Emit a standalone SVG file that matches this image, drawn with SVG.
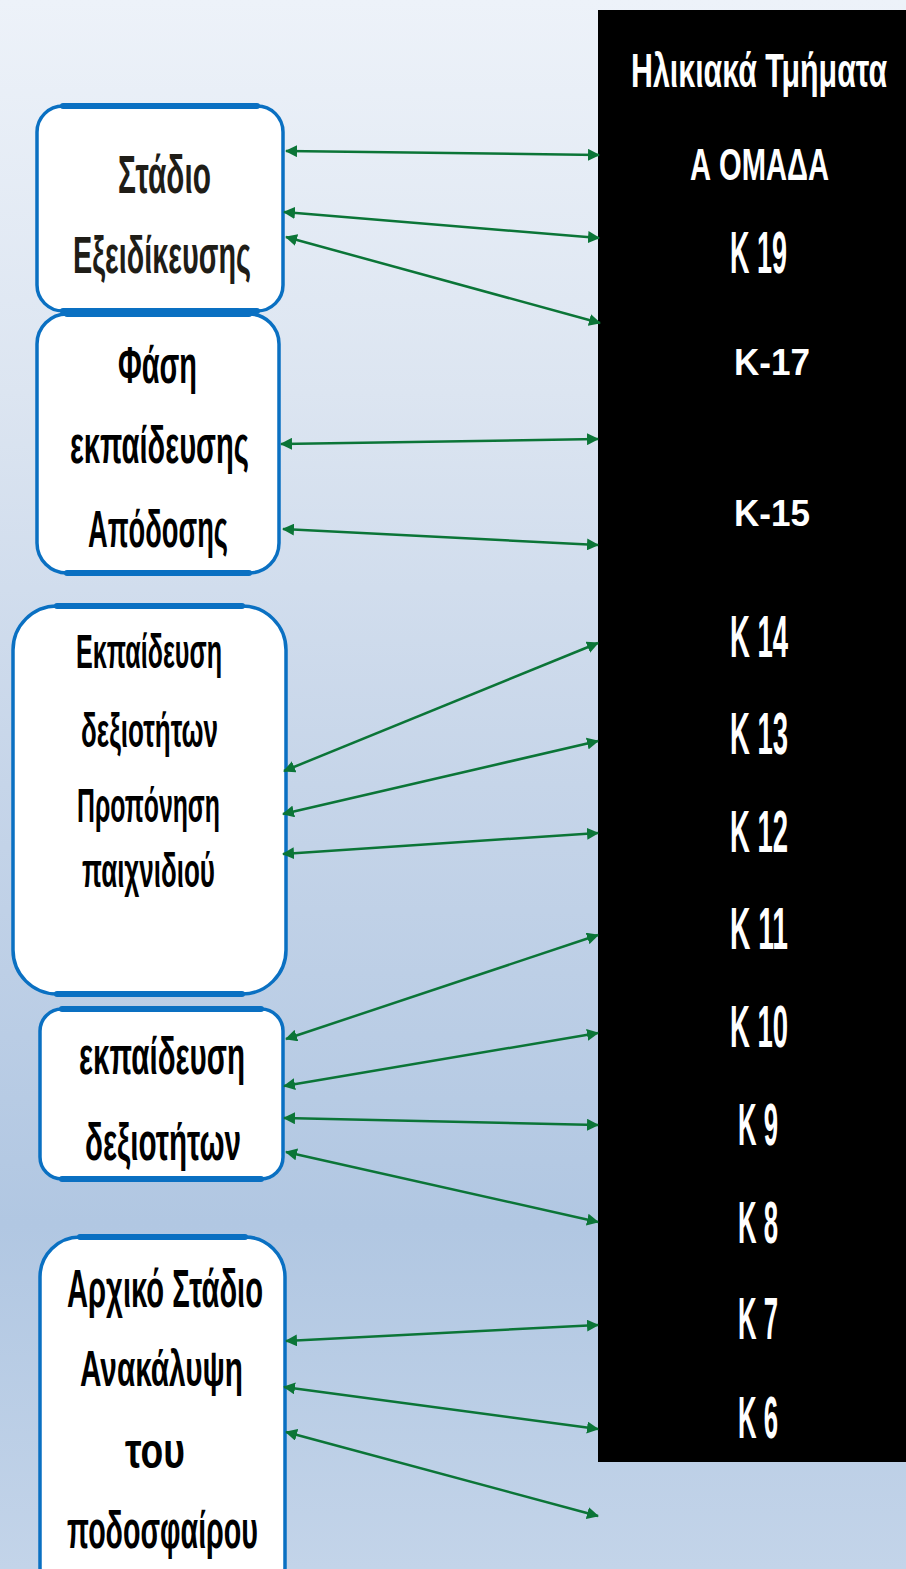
<svg xmlns="http://www.w3.org/2000/svg" width="906" height="1569" viewBox="0 0 906 1569">
<defs>
<linearGradient id="bg" x1="0" y1="0" x2="0" y2="1">
<stop offset="0" stop-color="#edf2f9"/>
<stop offset="0.25" stop-color="#dce5f1"/>
<stop offset="0.5" stop-color="#c6d5e9"/>
<stop offset="0.78" stop-color="#b1c7e2"/>
<stop offset="1" stop-color="#c3d4e9"/>
</linearGradient>
<marker id="ah" viewBox="0 0 12 12" refX="11" refY="6" markerWidth="12" markerHeight="12" markerUnits="userSpaceOnUse" orient="auto-start-reverse">
<path d="M0,0 L12,6 L0,12 z" fill="#0b7537"/>
</marker>
<style>
.box{fill:#ffffff;stroke:#0a70c2;stroke-width:3.5}
.edge{stroke:#0a70c2;stroke-width:6;stroke-linecap:round}
.bt{font-family:"Liberation Sans",Arial,sans-serif;font-weight:bold;fill:#000000}
.wt{font-family:"Liberation Sans",Arial,sans-serif;font-weight:bold;fill:#ffffff}
.con line{stroke:#0b7537;stroke-width:2.5;marker-start:url(#ah);marker-end:url(#ah)}
</style>
</defs>
<rect x="0" y="0" width="906" height="1569" fill="url(#bg)"/>

<g id="age-groups">
<rect x="598" y="10" width="308" height="1452" fill="#000000"/>
<text class="wt" x="0" y="0" font-size="49" transform="matrix(0.6 0 0 1 631 87)" textLength="427" lengthAdjust="spacingAndGlyphs">Ηλικιακά Τμήματα</text>
<text class="wt" x="690" y="180" font-size="45" textLength="139" lengthAdjust="spacingAndGlyphs">Α ΟΜΑΔΑ</text>
<text class="wt" x="730" y="273" font-size="60" textLength="57" lengthAdjust="spacingAndGlyphs">Κ 19</text>
<text class="wt" x="734" y="375" font-size="36" textLength="76" lengthAdjust="spacingAndGlyphs">Κ-17</text>
<text class="wt" x="734" y="526" font-size="36" textLength="76" lengthAdjust="spacingAndGlyphs">Κ-15</text>
<text class="wt" x="730" y="657" font-size="60" textLength="58" lengthAdjust="spacingAndGlyphs">Κ 14</text>
<text class="wt" x="730" y="754" font-size="60" textLength="58" lengthAdjust="spacingAndGlyphs">Κ 13</text>
<text class="wt" x="730" y="852" font-size="60" textLength="58" lengthAdjust="spacingAndGlyphs">Κ 12</text>
<text class="wt" x="730" y="949" font-size="60" textLength="58" lengthAdjust="spacingAndGlyphs">Κ 11</text>
<text class="wt" x="730" y="1047" font-size="60" textLength="58" lengthAdjust="spacingAndGlyphs">Κ 10</text>
<text class="wt" x="738" y="1145" font-size="60" textLength="40" lengthAdjust="spacingAndGlyphs">Κ 9</text>
<text class="wt" x="738" y="1243" font-size="60" textLength="40" lengthAdjust="spacingAndGlyphs">Κ 8</text>
<text class="wt" x="738" y="1339" font-size="60" textLength="40" lengthAdjust="spacingAndGlyphs">Κ 7</text>
<text class="wt" x="738" y="1438" font-size="60" textLength="40" lengthAdjust="spacingAndGlyphs">Κ 6</text>
</g>

<g id="stage-specialization">
<rect class="box" x="37" y="106" width="246" height="205" rx="26"/>
<line class="edge" x1="63" y1="106" x2="257" y2="106"/>
<line class="edge" x1="63" y1="311" x2="257" y2="311"/>
<text class="bt" x="118" y="193" font-size="53" textLength="93" lengthAdjust="spacingAndGlyphs" style="fill:#1f1d17">Στάδιο</text>
<text class="bt" x="73" y="273" font-size="51" textLength="178" lengthAdjust="spacingAndGlyphs" style="fill:#1f1d17">Εξειδίκευσης</text>
</g>

<g id="stage-performance">
<rect class="box" x="37" y="314" width="242" height="259" rx="30"/>
<line class="edge" x1="67" y1="314" x2="249" y2="314"/>
<line class="edge" x1="67" y1="573" x2="249" y2="573"/>
<text class="bt" x="118" y="383" font-size="51" textLength="79" lengthAdjust="spacingAndGlyphs">Φάση</text>
<text class="bt" x="70" y="463" font-size="51" textLength="179" lengthAdjust="spacingAndGlyphs">εκπαίδευσης</text>
<text class="bt" x="88" y="547" font-size="51" textLength="140" lengthAdjust="spacingAndGlyphs">Απόδοσης</text>
</g>

<g id="stage-skills-game">
<rect class="box" x="13" y="606" width="273" height="388" rx="44"/>
<line class="edge" x1="57" y1="606" x2="242" y2="606"/>
<line class="edge" x1="57" y1="994" x2="242" y2="994"/>
<text class="bt" x="76" y="668" font-size="49" textLength="146" lengthAdjust="spacingAndGlyphs">Εκπαίδευση</text>
<text class="bt" x="81" y="747" font-size="49" textLength="137" lengthAdjust="spacingAndGlyphs">δεξιοτήτων</text>
<text class="bt" x="77" y="822" font-size="49" textLength="143" lengthAdjust="spacingAndGlyphs">Προπόνηση</text>
<text class="bt" x="82" y="887" font-size="49" textLength="133" lengthAdjust="spacingAndGlyphs">παιχνιδιού</text>
</g>

<g id="stage-skills">
<rect class="box" x="40" y="1009" width="243" height="170" rx="22"/>
<line class="edge" x1="62" y1="1009" x2="261" y2="1009"/>
<line class="edge" x1="62" y1="1179" x2="261" y2="1179"/>
<text class="bt" x="79" y="1074" font-size="51" textLength="166" lengthAdjust="spacingAndGlyphs">εκπαίδευση</text>
<text class="bt" x="85" y="1160" font-size="51" textLength="156" lengthAdjust="spacingAndGlyphs">δεξιοτήτων</text>
</g>

<g id="stage-initial">
<rect class="box" x="40" y="1237" width="245" height="370" rx="40"/>
<line class="edge" x1="80" y1="1237" x2="245" y2="1237"/>
<text class="bt" x="67" y="1307" font-size="54" textLength="196" lengthAdjust="spacingAndGlyphs">Αρχικό Στάδιο</text>
<text class="bt" x="80" y="1386" font-size="50" textLength="163" lengthAdjust="spacingAndGlyphs">Ανακάλυψη</text>
<text class="bt" x="125" y="1468" font-size="50" textLength="60" lengthAdjust="spacingAndGlyphs">του</text>
<text class="bt" x="67" y="1548" font-size="51" textLength="191" lengthAdjust="spacingAndGlyphs">ποδοσφαίρου</text>
</g>

<g id="connectors" class="con">
<line x1="286" y1="151" x2="599" y2="155"/>
<line x1="284" y1="212" x2="599" y2="238"/>
<line x1="286" y1="237" x2="600" y2="323"/>
<line x1="281" y1="444" x2="598" y2="439"/>
<line x1="283" y1="529" x2="598" y2="545"/>
<line x1="284" y1="771" x2="598" y2="643"/>
<line x1="283" y1="814" x2="598" y2="741"/>
<line x1="283" y1="854" x2="598" y2="833"/>
<line x1="286" y1="1039" x2="598" y2="935"/>
<line x1="284" y1="1086" x2="598" y2="1033"/>
<line x1="284" y1="1118" x2="598" y2="1125"/>
<line x1="286" y1="1152" x2="598" y2="1222"/>
<line x1="286" y1="1341" x2="598" y2="1325"/>
<line x1="284" y1="1387" x2="598" y2="1429"/>
<line x1="286" y1="1432" x2="598" y2="1516"/>
</g>
</svg>
